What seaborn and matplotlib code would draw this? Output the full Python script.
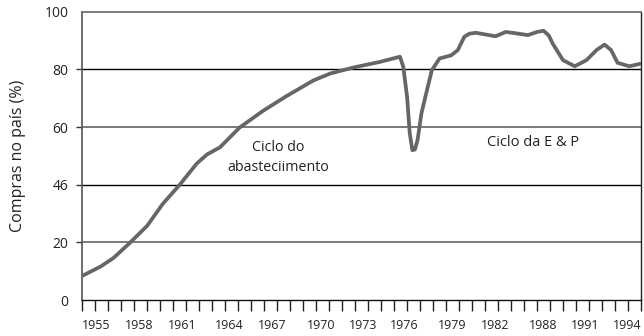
import seaborn as sns
import pandas as pd
import matplotlib
matplotlib.use("Agg")
import matplotlib.pyplot as plt

# curve (horizontal position in axis tick units, 0..43)
t_pos = [0.0, 1.4, 2.4, 3.7, 5.0, 6.2, 7.5, 8.8, 9.6, 10.6, 12.1, 13.9, 15.7,
         17.8, 19.1, 20.9, 22.9, 24.1, 24.45, 24.7, 25.0, 25.2, 25.4, 25.6,
         25.8, 26.1, 26.4, 26.9, 27.5, 28.4, 28.9, 29.4, 29.8, 30.3, 31.8,
         32.6, 33.4, 34.3, 35.0, 35.5, 35.9, 36.2, 37.0, 37.9, 38.8, 39.6,
         40.2, 40.7, 41.2, 42.1, 43.0]
compras = [8.4, 11.6, 14.6, 20.0, 25.8, 33.4, 40.0, 47.3, 50.5, 53.0, 59.8,
           65.6, 70.7, 76.2, 78.6, 80.7, 82.6, 84.0, 84.4, 81.0, 70.4, 58.0,
           52.0, 52.2, 55.4, 64.7, 70.4, 79.7, 83.8, 84.9, 86.7, 91.3, 92.4,
           92.7, 91.5, 93.0, 92.5, 91.9, 93.0, 93.4, 91.8, 89.0, 83.2, 81.1,
           83.2, 86.8, 88.6, 86.7, 82.3, 81.1, 82.0]

year_labels = ["1955", "1958", "1961", "1964", "1967", "1970", "1973",
               "1976", "1979", "1982", "1988", "1991", "1994"]
y_values = [0, 20, 40, 60, 80, 100]
y_labels = ["0", "20", "46", "60", "80", "100"]

# where the year labels sit along the tick row
label_pos = [1.1, 4.4, 7.7, 11.3, 14.6, 18.4, 21.6, 24.8, 28.5, 31.8, 35.5, 38.7, 41.96]

df = pd.DataFrame({"t": t_pos, "compras": compras})

sns.set_theme(style="white")
plt.rcParams["font.family"] = ["Open Sans", "DejaVu Sans"]

fig = plt.figure(figsize=(6.44, 3.36), dpi=100)
ax = fig.add_axes([0.1278, 0.107, 0.8675, 0.858])

# horizontal rules
for yv, col, lw in [(80, "#000000", 1.0), (60, "#707070", 1.3),
                    (40, "#000000", 1.0), (20, "#707070", 1.3)]:
    ax.axhline(yv, color=col, lw=lw, zorder=1)

sns.lineplot(data=df, x="t", y="compras", ax=ax, color="#666666", lw=2.7,
             sort=False, zorder=3, solid_joinstyle="round", solid_capstyle="round")

ax.set_xlim(0, 43)
ax.set_ylim(0, 100)

# year tick marks (one per tick unit) and labels
ax.set_xticks(range(0, 44))
ax.set_xticklabels([])
ax.tick_params(axis="x", which="major", direction="out", length=8, width=1.0,
               color="#222222", bottom=True)
ax.set_xticks(label_pos, minor=True)
ax.set_xticklabels(year_labels, minor=True, fontsize=9, color="#222222")
ax.tick_params(axis="x", which="minor", length=0, pad=14, bottom=True)

ax.set_yticks(y_values)
ax.set_yticklabels(y_labels, fontsize=10, color="#222222")
ax.tick_params(axis="y", direction="out", length=4, width=1.0, color="#333333",
               left=True, pad=6)
ticks = ax.yaxis.get_major_ticks()
ticks[0].tick1line.set_visible(False)
ticks[-1].tick1line.set_visible(False)

ax.set_xlabel("")
ax.set_ylabel("Compras no país (%)", fontsize=11.5, color="#222222", labelpad=13)

ax.spines["top"].set_color("#707070")
ax.spines["top"].set_linewidth(1.3)
ax.spines["left"].set_color("#555555")
ax.spines["left"].set_linewidth(1.2)
ax.spines["bottom"].set_color("#111111")
ax.spines["bottom"].set_linewidth(1.0)
ax.spines["right"].set_color("#222222")
ax.spines["right"].set_linewidth(1.0)

ax.text(15.1, 49.5, "Ciclo do\nabasteciimento", ha="center", va="center",
        fontsize=10.3, color="#222222", linespacing=1.5)
ax.text(34.7, 54.7, "Ciclo da E & P", ha="center", va="center",
        fontsize=10.5, color="#222222")

fig.savefig("out.png", dpi=100)
